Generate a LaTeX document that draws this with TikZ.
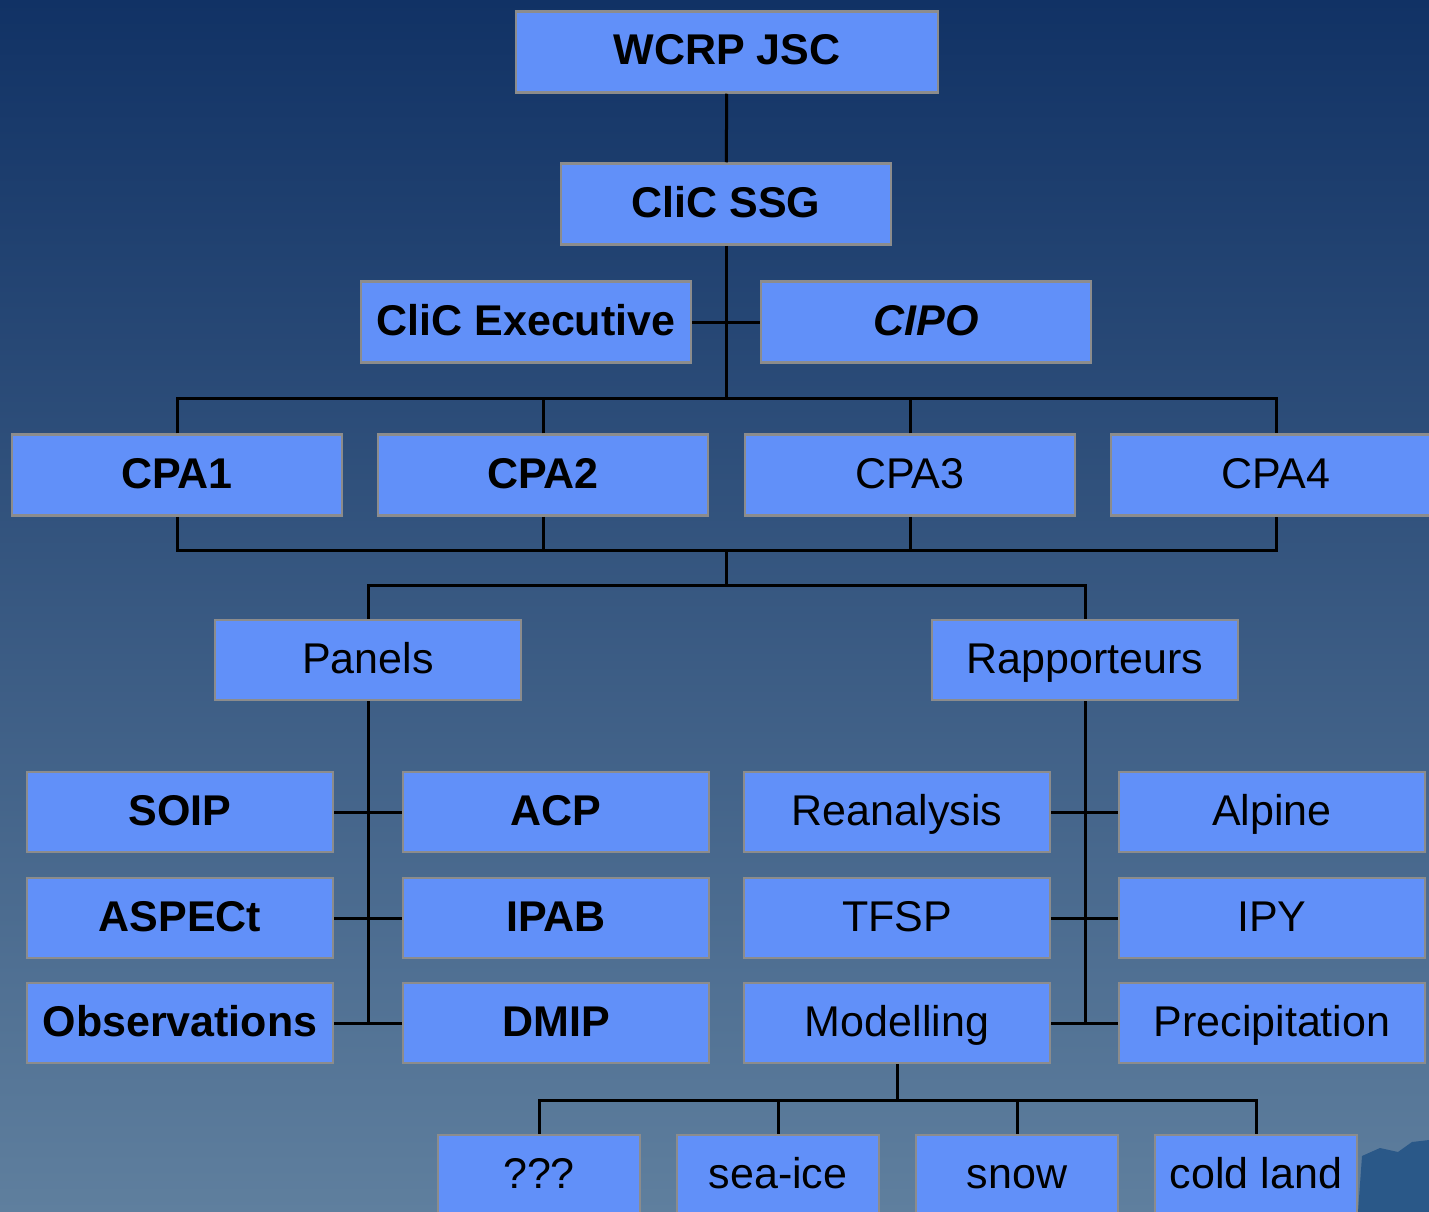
\documentclass[tikz,border=0pt]{standalone}
\usepackage{fontspec}
\setmainfont{Liberation Sans}
\usepackage{xcolor}
\definecolor{boxblue}{HTML}{6190F9}
\definecolor{boxgrey}{HTML}{8C8C8C}
\definecolor{bgtop}{HTML}{113265}
\definecolor{bgbottom}{HTML}{5F7F9E}
\definecolor{icedark}{HTML}{2A5888}
\tikzstyle{link} = [line width=3pt]

\begin{document}
\begin{tikzpicture}
        [
            x=1pt,y=-1pt,
            box/.style={rectangle,draw=boxgrey,line width=2.5pt,fill=boxblue,
                minimum width=330pt,minimum height=81pt,inner sep=0pt,
                text height=31pt,text depth=5pt,font=\fontsize{43}{50}\selectfont},
            boldbox/.style={box,font=\fontsize{43}{50}\selectfont\bfseries},
            midbox/.style={minimum width=306pt,minimum height=80pt},
            lowbox/.style={minimum width=202pt,minimum height=80pt},
        ]

    \useasboundingbox (0,0) rectangle (1429,1212);
    \clip (0,0) rectangle (1429,1212);
    \shade[top color=bgtop,bottom color=bgbottom] (0,0) rectangle (1429,1212);
    \fill[icedark] (1358,1212) -- (1362,1156) -- (1380,1148) -- (1398,1152) -- (1412,1142) -- (1429,1140) -- (1429,1212) -- cycle;

    % top of the tree
    \node[boldbox,minimum width=422pt] (wcrp) at (727,52) {WCRP JSC};
    \node[boldbox] (ssg) at (726,204) {CliC SSG};
    \node[boldbox] (exec) at (526,322) {CliC Executive};
    \node[boldbox,font=\fontsize{43}{50}\selectfont\bfseries\itshape] (cipo) at (926,322) {CIPO};

    \node[boldbox] (cpa1) at (177,475) {CPA1};
    \node[boldbox] (cpa2) at (543,475) {CPA2};
    \node[box    ] (cpa3) at (910,475) {CPA3};
    \node[box    ] (cpa4) at (1276,475) {CPA4};

    \node[box,midbox] (panels) at (368,660) {Panels};
    \node[box,midbox] (rapp) at (1085,660) {Rapporteurs};

    % panels
    \node[boldbox,midbox] (soip) at (180,812) {SOIP};
    \node[boldbox,midbox] (aspect) at (180,918) {ASPECt};
    \node[boldbox,midbox] (obs) at (180,1023) {Observations};
    \node[boldbox,midbox] (acp) at (556,812) {ACP};
    \node[boldbox,midbox] (ipab) at (556,918) {IPAB};
    \node[boldbox,midbox] (dmip) at (556,1023) {DMIP};

    % rapporteurs
    \node[box,midbox] (rean) at (897,812) {Reanalysis};
    \node[box,midbox] (tfsp) at (897,918) {TFSP};
    \node[box,midbox] (model) at (897,1023) {Modelling};
    \node[box,midbox] (alpine) at (1272,812) {Alpine};
    \node[box,midbox] (ipy) at (1272,918) {IPY};
    \node[box,midbox] (precip) at (1272,1023) {Precipitation};

    \node[box,lowbox] (unknown) at (539,1175) {???};
    \node[box,lowbox] (seaice) at (778,1175) {sea-ice};
    \node[box,lowbox] (snow) at (1017,1175) {snow};
    \node[box,lowbox] (coldland) at (1256,1175) {cold land};

    \coordinate (topbus) at (726,398);
    \coordinate (cpabus) at (726,550);
    \coordinate (panelbus) at (726,585);
    \coordinate (modelbus) at (897,1100);

    \draw[link] (wcrp) -- (ssg);
    \draw[link] (ssg) -- (topbus);
    \draw[link] (exec) -- (cipo);
    \draw[link] (cpa1.north) |- (topbus) -| (cpa4.north);
    \draw[link] (cpa1.south) |- (cpabus) -| (cpa4.south);
    \foreach \n in {cpa2,cpa3}{
        \draw[link] (\n.north) -- (\n.north |- topbus);
        \draw[link] (\n.south) -- (\n.south |- cpabus);
    }
    \draw[link] (cpabus) -- (panelbus);
    \draw[link] (panels) |- (panelbus) -| (rapp);

    \draw[link] (panels) -- (panels |- obs);
    \foreach \a/\b in {soip/acp,aspect/ipab,obs/dmip}
        \draw[link] (\a) -- (\b);
    \draw[link] (rapp) -- (rapp |- precip);
    \foreach \a/\b in {rean/alpine,tfsp/ipy,model/precip}
        \draw[link] (\a) -- (\b);

    \draw[link] (model) -- (modelbus);
    \draw[link] (unknown) |- (modelbus) -| (coldland);
    \foreach \n in {seaice,snow}
        \draw[link] (\n) -- (\n |- modelbus);
    \end{tikzpicture}
\end{document}
